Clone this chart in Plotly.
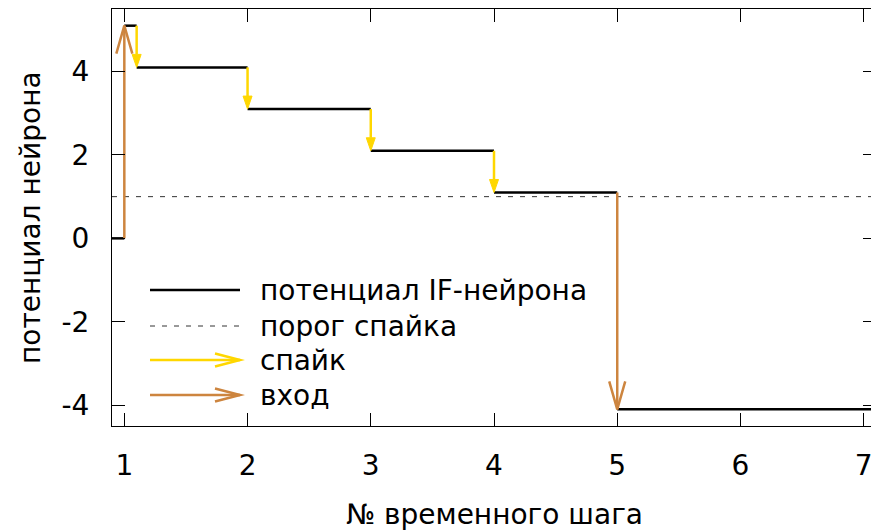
import plotly.graph_objects as go

# ---- data ----
level_start = [0.9, 1.0, 1.1, 2.0, 3.0, 4.0, 5.0]
level_end = [1.0, 1.1, 2.0, 3.0, 4.0, 5.0, 7.1]
level_value = [0.0, 5.1, 4.1, 3.1, 2.1, 1.1, -4.1]

spike_x = [1.1, 2.0, 3.0, 4.0]
spike_from = [5.1, 4.1, 3.1, 2.1]
spike_to = [4.1, 3.1, 2.1, 1.1]

input_x = [1.0, 5.0]
input_from = [0.0, 1.1]
input_to = [5.1, -4.1]

threshold = 1.0

x_ticks = [1, 2, 3, 4, 5, 6, 7]
y_ticks = [-4, -2, 0, 2, 4]
y_tick_text = ["-4", "-2", "0", "2", "4"]

legend_labels = ["потенциал IF-нейрона", "порог спайка", "спайк", "вход"]

# ---- styling ----
OFF = 8  # default page body margin
W, H = 879 - OFF, 530 - OFF
ML, MR, MT, MB = 112 - OFF, 3, 9 - OFF, 104
XR = [0.9, 7.1]
YR = [-4.5, 5.5]
FONT = "DejaVu Sans"
FS = 28
SPIKE_C = "#FFD700"
INPUT_C = "#CD853F"

pw = W - ML - MR
ph = H - MT - MB
px_x = (XR[1] - XR[0]) / pw   # data units per pixel
px_y = (YR[1] - YR[0]) / ph


def page_x(px):
    return (px - OFF - ML) / pw


def page_y(py):
    return (MT + ph - (py - OFF)) / ph


fig = go.Figure()

# threshold
fig.add_trace(go.Scatter(x=XR, y=[threshold, threshold], mode="lines",
                         line=dict(color="#333", width=1, dash="5px,7px"),
                         hoverinfo="skip", showlegend=False))

# potential levels
lx, ly = [], []
for a, b, v in zip(level_start, level_end, level_value):
    lx += [a, b, None]
    ly += [v, v, None]
fig.add_trace(go.Scatter(x=lx, y=ly, mode="lines",
                         line=dict(color="black", width=2.5),
                         hoverinfo="skip", showlegend=False))

# spike arrows (filled head)
HL_S, HW_S = 13, 4.5
sx, sy, hx, hy = [], [], [], []
for x, a, b in zip(spike_x, spike_from, spike_to):
    d = -1 if b < a else 1
    base = b - d * HL_S * px_y
    sx += [x, x, None]
    sy += [a, base, None]
    hx += [x - HW_S * px_x, x + HW_S * px_x, x, x - HW_S * px_x, None]
    hy += [base, base, b, base, None]
fig.add_trace(go.Scatter(x=sx, y=sy, mode="lines",
                         line=dict(color=SPIKE_C, width=2.5),
                         hoverinfo="skip", showlegend=False))
fig.add_trace(go.Scatter(x=hx, y=hy, mode="lines", fill="toself",
                         fillcolor=SPIKE_C, line=dict(color=SPIKE_C, width=1),
                         hoverinfo="skip", showlegend=False))

# input arrows (open V head)
HL_I, HW_I = 28, 8
ix, iy = [], []
for x, a, b in zip(input_x, input_from, input_to):
    d = -1 if b < a else 1
    base = b - d * HL_I * px_y
    ix += [x, x, None,
           x - HW_I * px_x, x, x + HW_I * px_x, None]
    iy += [a, b, None, base, b, base, None]
fig.add_trace(go.Scatter(x=ix, y=iy, mode="lines",
                         line=dict(color=INPUT_C, width=2.5),
                         hoverinfo="skip", showlegend=False))

# ---- manual legend (paper coordinates) ----
shapes = []
annotations = []
lx0, lx1 = page_x(150), page_x(240)
tx = page_x(258)
rows_px = [290, 326, 360, 395]
rows = [page_y(r) for r in rows_px]
styles = [dict(color="black", width=2.5, dash="solid"),
          dict(color="#333", width=1, dash="5px,7px"),
          dict(color=SPIKE_C, width=2.5, dash="solid"),
          dict(color=INPUT_C, width=2.5, dash="solid")]
HL_L, HW_L = 25, 6.5
for i, (lab, yv, st) in enumerate(zip(legend_labels, rows, styles)):
    shapes.append(dict(type="line", xref="paper", yref="paper",
                       x0=lx0, x1=lx1, y0=yv, y1=yv, line=st))
    if i >= 2:
        bx = lx1 - HL_L / pw
        dy = HW_L / ph
        shapes.append(dict(type="path", xref="paper", yref="paper",
                           path=f"M {bx},{yv + dy} L {lx1},{yv} L {bx},{yv - dy}",
                           line=dict(color=st["color"], width=2.5)))
    annotations.append(dict(xref="paper", yref="paper", x=tx, y=yv, text=lab,
                            showarrow=False, xanchor="left", yanchor="middle",
                            font=dict(family=FONT, size=FS, color="black")))

# axis titles
annotations.append(dict(xref="paper", yref="paper", x=page_x(494),
                        y=page_y(514), text="№ временного шага",
                        showarrow=False, xanchor="center", yanchor="middle",
                        font=dict(family=FONT, size=FS, color="black")))
annotations.append(dict(xref="paper", yref="paper", x=page_x(30),
                        y=page_y(218), text="потенциал нейрона",
                        showarrow=False, xanchor="center", yanchor="middle",
                        textangle=-90,
                        font=dict(family=FONT, size=FS, color="black")))

axis_common = dict(showgrid=False, zeroline=False, showline=True,
                   linecolor="black", linewidth=1, mirror="ticks",
                   ticks="inside", ticklen=13, tickcolor="black", tickwidth=1,
                   tickfont=dict(family=FONT, size=FS, color="black"))

fig.update_layout(
    width=W, height=H,
    margin=dict(l=ML, r=MR, t=MT, b=MB),
    paper_bgcolor="white", plot_bgcolor="white",
    showlegend=False,
    xaxis=dict(range=XR, tickvals=x_ticks, ticklabelstandoff=14, **axis_common),
    yaxis=dict(range=YR, tickvals=y_ticks, ticktext=y_tick_text,
               ticklabelstandoff=16, **axis_common),
    shapes=shapes, annotations=annotations,
)

fig.write_html("out.html")
